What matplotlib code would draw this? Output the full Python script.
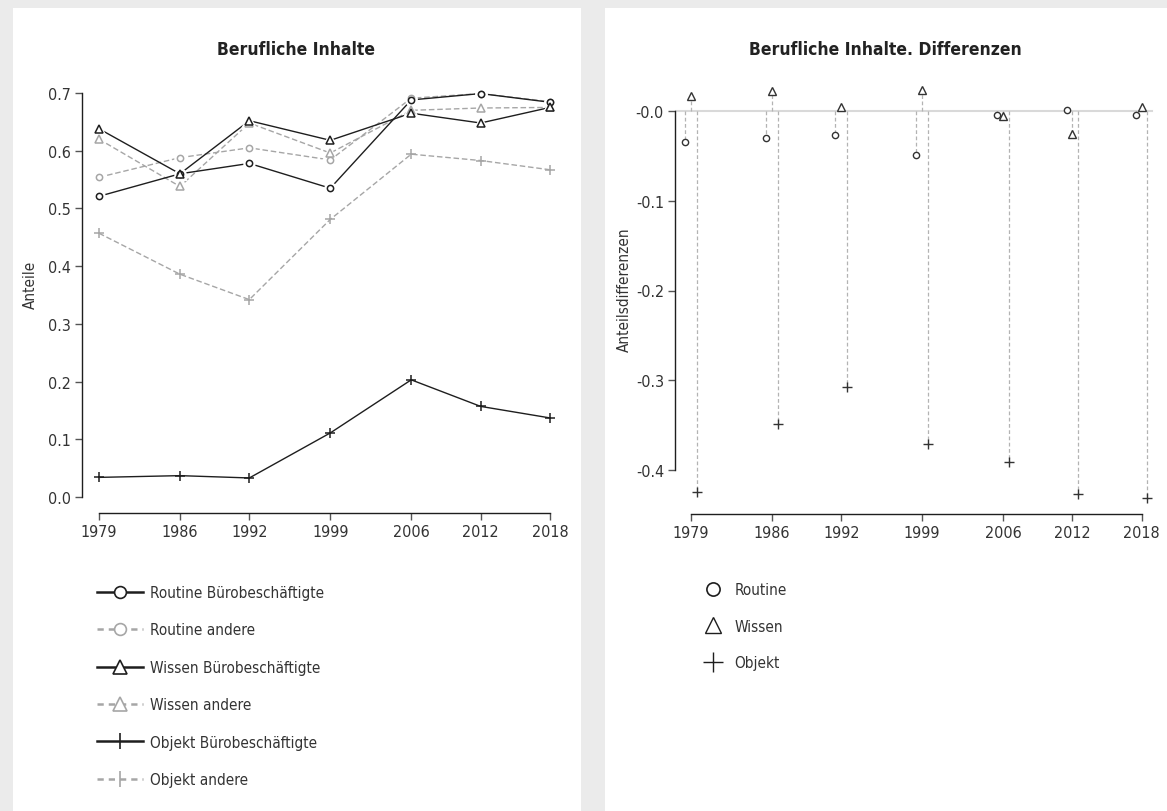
import matplotlib
matplotlib.use("Agg")
import matplotlib.pyplot as plt
from matplotlib import font_manager as fm
from matplotlib.lines import Line2D
from matplotlib.patches import Rectangle
from matplotlib.ticker import FixedLocator, FuncFormatter

# ---------------- data ----------------
years = [1979, 1986, 1992, 1999, 2006, 2012, 2018]

routine_buero = [0.521, 0.560, 0.578, 0.535, 0.688, 0.699, 0.684]
routine_andere = [0.554, 0.588, 0.605, 0.584, 0.691, 0.699, 0.685]
wissen_buero = [0.638, 0.560, 0.652, 0.618, 0.665, 0.648, 0.675]
wissen_andere = [0.620, 0.538, 0.648, 0.596, 0.670, 0.674, 0.675]
objekt_buero = [0.034, 0.037, 0.033, 0.111, 0.203, 0.157, 0.137]
objekt_andere = [0.457, 0.386, 0.342, 0.481, 0.594, 0.583, 0.567]

diff_routine = [-0.034, -0.030, -0.027, -0.049, -0.0045, 0.001, -0.004]
diff_wissen = [0.017, 0.022, 0.004, 0.023, -0.0055, -0.026, 0.005]
diff_objekt = [-0.424, -0.349, -0.308, -0.371, -0.391, -0.427, -0.431]

left_yticks = [0.0, 0.1, 0.2, 0.3, 0.4, 0.5, 0.6, 0.7]
right_yticks = [0.0, -0.1, -0.2, -0.3, -0.4]

left_title = "Berufliche Inhalte"
right_title = "Berufliche Inhalte. Differenzen"
left_ylabel = "Anteile"
right_ylabel = "Anteilsdifferenzen"
left_labels = ["Routine Bürobeschäftigte", "Routine andere", "Wissen Bürobeschäftigte",
               "Wissen andere", "Objekt Bürobeschäftigte", "Objekt andere"]
right_labels = ["Routine", "Wissen", "Objekt"]

# ---------------- font ----------------
names = {f.name for f in fm.fontManager.ttflist}
dejavu_cond = any(f.name == "DejaVu Sans" and str(f.stretch) in ("condensed", "semi-condensed")
                  for f in fm.fontManager.ttflist)
if "Liberation Sans Narrow" in names:
    plt.rcParams["font.family"] = ["Liberation Sans Narrow", "DejaVu Sans"]
elif dejavu_cond:
    plt.rcParams["font.family"] = ["DejaVu Sans"]
    plt.rcParams["font.stretch"] = "condensed"
else:
    plt.rcParams["font.family"] = ["Roboto", "DejaVu Sans"]

TXT = "#333333"
BLK = "#1e1e1e"
GRY = "#a6a6a6"
W, H = 1167, 812

fig = plt.figure(figsize=(W / 100, H / 100), dpi=100, facecolor="#ebebeb")


def fx(x):
    return x / W


def fy(y):
    return 1 - y / H


# panels
fig.add_artist(Rectangle((fx(13), 0), fx(581) - fx(13), fy(9), transform=fig.transFigure,
                         facecolor="white", edgecolor="none", zorder=-10))
fig.add_artist(Rectangle((fx(605), 0), 1 - fx(605), fy(9), transform=fig.transFigure,
                         facecolor="white", edgecolor="none", zorder=-10))


def make_axes(x0, x1, y_top, y_bot):
    ax = fig.add_axes([fx(x0), fy(y_bot), fx(x1) - fx(x0), fy(y_top) - fy(y_bot)])
    ax.set_facecolor("none")
    for s in ("top", "right"):
        ax.spines[s].set_visible(False)
    for s in ("left", "bottom"):
        ax.spines[s].set_color(BLK)
        ax.spines[s].set_linewidth(1.0)
    ax.tick_params(axis="both", direction="out", length=5, width=1, color="#555555",
                   labelcolor=TXT, labelsize=11.5, pad=3)
    return ax


# ---------------- left chart ----------------
axL = make_axes(82, 570, 85, 514)
pxyr = (550 - 99) / (2018 - 1979)
pxv = (498 - 94) / 0.7
axL.set_xlim(1979 - (99 - 82) / pxyr, 2018 + (570 - 550) / pxyr)
axL.set_ylim(-(514 - 498) / pxv, 0.7 + (94 - 85) / pxv)
axL.spines["left"].set_bounds(0, 0.7)
axL.spines["bottom"].set_bounds(1979, 2018)
axL.xaxis.set_major_locator(FixedLocator(years))
axL.xaxis.set_major_formatter(FuncFormatter(lambda v, p: f"{int(round(v))}"))
axL.yaxis.set_major_locator(FixedLocator(left_yticks))
axL.yaxis.set_major_formatter(FuncFormatter(lambda v, p: f"{v:.1f}"))

series = [
    (routine_andere, GRY, (0, (4, 2)), "o", 4.5),
    (wissen_andere, GRY, (0, (4, 2)), "^", 6),
    (objekt_andere, GRY, (0, (4, 2)), "+", 7),
    (routine_buero, BLK, "-", "o", 4.5),
    (wissen_buero, BLK, "-", "^", 6),
    (objekt_buero, BLK, "-", "+", 7),
]
for vals, col, ls, mk, ms in series:
    axL.plot(years, vals, color=col, ls=ls, lw=1.0, zorder=2)
    if mk != "+":
        axL.plot(years, vals, ls="none", marker=mk, ms=ms + 3, mfc="white", mec="white",
                 mew=1.5, zorder=3)
    axL.plot(years, vals, ls="none", marker=mk, ms=ms, mfc="white" if mk != "+" else "none",
             mec=col, mew=1.1, zorder=4)

handlesL = [
    Line2D([], [], color=BLK, ls="-", lw=1.8, marker="o", ms=8.5, mfc="white", mec=BLK, mew=1.2),
    Line2D([], [], color=GRY, ls=(0, (2.5, 2)), lw=1.8, marker="o", ms=8.5, mfc="white", mec=GRY, mew=1.2),
    Line2D([], [], color=BLK, ls="-", lw=1.8, marker="^", ms=10.5, mfc="white", mec=BLK, mew=1.2),
    Line2D([], [], color=GRY, ls=(0, (2.5, 2)), lw=1.8, marker="^", ms=10.5, mfc="white", mec=GRY, mew=1.2),
    Line2D([], [], color=BLK, ls="-", lw=1.8, marker="|", ms=12, mec=BLK, mew=1.2),
    Line2D([], [], color=GRY, ls=(0, (2.5, 2)), lw=1.8, marker="|", ms=12, mec=GRY, mew=1.2),
]
legL = fig.legend(handlesL, left_labels, loc="upper left", bbox_to_anchor=(fx(97), fy(586)),
                  frameon=False, fontsize=11, labelspacing=1.47, handlelength=3.0,
                  handletextpad=0.45, borderpad=0, borderaxespad=0, labelcolor=TXT)

fig.text(fx(296), fy(50), left_title, ha="center", va="center", fontsize=12.5,
         fontweight="bold", color="#222222")
fig.text(fx(30), fy(285), left_ylabel, ha="center", va="center", rotation=90,
         fontsize=11, color=TXT)

# ---------------- right chart ----------------
axR = make_axes(675, 1160, 80, 515)
pxyrR = (1141.6 - 691) / (2018 - 1979)
pxvR = (471 - 112) / 0.4
axR.set_xlim(1979 - (691 - 675) / pxyrR, 2018 + (1160 - 1141.6) / pxyrR)
axR.set_ylim(-(515 - 112) / pxvR, (112 - 80) / pxvR)
axR.spines["left"].set_bounds(-0.4, 0)
axR.spines["bottom"].set_bounds(1979, 2018)
axR.xaxis.set_major_locator(FixedLocator(years))
axR.xaxis.set_major_formatter(FuncFormatter(lambda v, p: f"{int(round(v))}"))
axR.yaxis.set_major_locator(FixedLocator(right_yticks))
axR.yaxis.set_major_formatter(FuncFormatter(lambda v, p: "-" + f"{abs(v):.1f}"))
axR.axhline(0, xmax=(1152 - 675) / (1160 - 675), color="#d9d9d9", lw=1.5, zorder=1)

offsets = [-0.5, 0.0, 0.5]
markersR = ["o", "^", "+"]
sizesR = [4.5, 6, 7.5]
for vals, off, mk, ms in zip([diff_routine, diff_wissen, diff_objekt], offsets, markersR, sizesR):
    xs = [y + off for y in years]
    axR.vlines(xs, 0, vals, colors="#b3b3b3", linestyles=(0, (3, 2)), lw=0.9, zorder=2)
    axR.plot(xs, vals, ls="none", marker=mk, ms=ms, mfc="white" if mk != "+" else "none",
             mec="#333333", mew=1.0, zorder=4)

handlesR = [
    Line2D([], [], ls="none", marker="o", ms=9.5, mfc="white", mec=BLK, mew=1.2),
    Line2D([], [], ls="none", marker="^", ms=11.5, mfc="white", mec=BLK, mew=1.0),
    Line2D([], [], ls="none", marker="+", ms=15, mec=BLK, mew=1.0),
]
legR = fig.legend(handlesR, right_labels, loc="upper left", bbox_to_anchor=(fx(703), fy(583)),
                  frameon=False, fontsize=11, labelspacing=1.42, handlelength=1.3,
                  handletextpad=0.75, borderpad=0, borderaxespad=0, labelcolor=TXT)

fig.text(fx(885), fy(50), right_title, ha="center", va="center", fontsize=12.5,
         fontweight="bold", color="#222222")
fig.text(fx(624), fy(290), right_ylabel, ha="center", va="center", rotation=90,
         fontsize=11, color=TXT)

fig.savefig("out.png", dpi=100, facecolor=fig.get_facecolor())
